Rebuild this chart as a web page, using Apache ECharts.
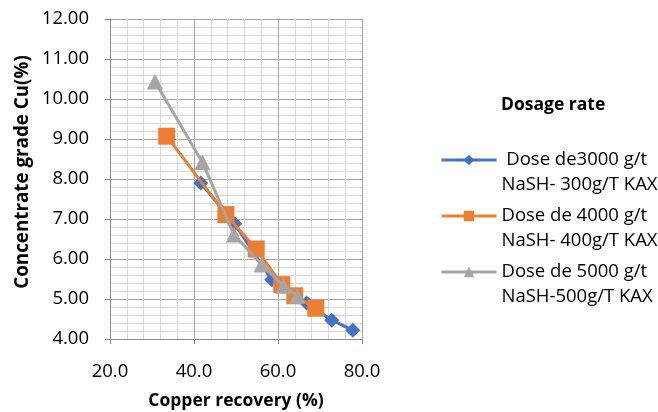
<!DOCTYPE html>
<html>
<head>
<meta charset="utf-8">
<script src="https://cdn.jsdelivr.net/npm/echarts@6/dist/echarts.min.js"></script>
<style>
  html, body { margin: 0; padding: 0; background: #fff; }
  #chart { width: 658px; height: 412px; }
</style>
</head>
<body>
<div id="chart"></div>
<script>
// Copper recovery (%) vs concentrate grade Cu (%) for three reagent dosages
const seriesNames = [
  ' Dose de3000 g/t\nNaSH- 300g/T KAX',
  'Dose de 4000 g/t\nNaSH- 400g/T KAX',
  'Dose de 5000 g/t\nNaSH-500g/T KAX'
];
const recovery3000 = [41.6, 49.7, 58.5, 66.8, 72.8, 77.8];
const grade3000    = [7.90, 6.88, 5.48, 4.90, 4.47, 4.22];
const recovery4000 = [33.5, 47.6, 54.8, 60.9, 64.0, 69.0];
const grade4000    = [9.07, 7.11, 6.25, 5.36, 5.08, 4.77];
const recovery5000 = [30.7, 42.0, 49.5, 56.1, 61.3, 64.6];
const grade5000    = [10.44, 8.42, 6.61, 5.86, 5.33, 5.08];
const xTicks = [20, 40, 60, 80];
const yTicks = [4, 5, 6, 7, 8, 9, 10, 11, 12];

const colors = ['#4472C4', '#ED7D31', '#A5A5A5'];
const symbols = ['diamond', 'rect', 'triangle'];
const symbolSizes = [15, 17, 16];
const font = "'Open Sans', 'Liberation Sans', sans-serif";

function pairs(xs, ys) { return xs.map((x, i) => [x, ys[i]]); }
const datasets = [
  pairs(recovery3000, grade3000),
  pairs(recovery4000, grade4000),
  pairs(recovery5000, grade5000)
];

const chart = echarts.init(document.getElementById('chart'), null, { renderer: 'canvas' });
chart.setOption({
  animation: false,
  backgroundColor: '#ffffff',
  title: {
    text: 'Dosage rate',
    left: 496,
    top: 91,
    textStyle: { fontFamily: font, fontWeight: 'bold', fontSize: 17.5, color: '#000' }
  },
  legend: {
    orient: 'vertical',
    left: 435,
    top: 117.5,
    itemWidth: 55,
    itemHeight: 13,
    itemGap: -19,
    data: seriesNames,
    lineStyle: { width: 3 },
    // blank leading line keeps the icon level with the first text line
    formatter: name => '\n' + name,
    textStyle: { fontFamily: font, fontSize: 18.5, color: '#000', lineHeight: 25 }
  },
  grid: { left: 110, right: 296, top: 19, bottom: 73, outerBoundsMode: 'none', containLabel: false },
  xAxis: {
    type: 'value',
    min: xTicks[0], max: xTicks[xTicks.length - 1], interval: 20,
    name: 'Copper recovery (%)',
    nameLocation: 'middle',
    nameGap: 53,
    nameTextStyle: { fontFamily: font, fontWeight: 'bold', fontSize: 17.5, color: '#000' },
    axisLine: { show: true, lineStyle: { color: '#8c8c8c', width: 1 } },
    axisTick: { show: true, length: 5, lineStyle: { color: '#8c8c8c' } },
    axisLabel: { margin: 23, fontFamily: font, fontSize: 18.5, color: '#000',
                 formatter: v => v.toFixed(1) },
    splitLine: { show: true, lineStyle: { color: '#a6a6a6', width: 1 } },
    minorTick: { show: false, splitNumber: 5 },
    minorSplitLine: { show: true, lineStyle: { color: '#d9d9d9', width: 1 } }
  },
  yAxis: {
    type: 'value',
    min: yTicks[0], max: yTicks[yTicks.length - 1], interval: 1,
    name: 'Concentrate grade Cu(%)',
    nameLocation: 'middle',
    nameGap: 78,
    nameTextStyle: { fontFamily: font, fontWeight: 'bold', fontSize: 18.8, color: '#000',
                     padding: [0, 0, 0, 14] },
    axisLine: { show: true, lineStyle: { color: '#8c8c8c', width: 1 } },
    axisTick: { show: true, length: 5, lineStyle: { color: '#8c8c8c' } },
    axisLabel: { margin: 21, fontFamily: font, fontSize: 18.5, color: '#000',
                 formatter: v => v.toFixed(2) },
    splitLine: { show: true, lineStyle: { color: '#a6a6a6', width: 1 } },
    minorTick: { show: false, splitNumber: 5 },
    minorSplitLine: { show: true, lineStyle: { color: '#d9d9d9', width: 1 } }
  },
  series: datasets.map((d, i) => ({
    name: seriesNames[i],
    type: 'line',
    data: d,
    symbol: symbols[i],
    symbolSize: symbolSizes[i],
    itemStyle: { color: colors[i] },
    lineStyle: { color: colors[i], width: 3 },
    z: 2 + i
  }))
});
</script>
</body>
</html>
